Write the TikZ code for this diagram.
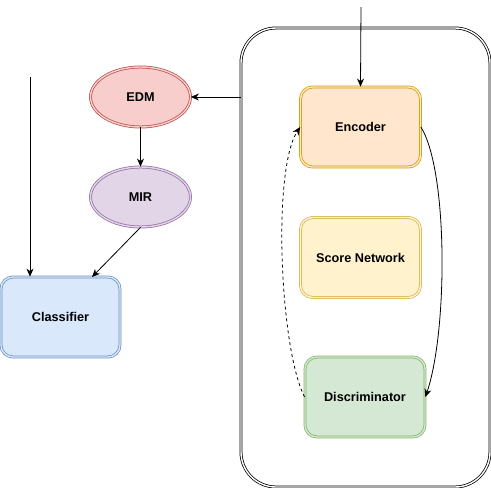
\documentclass[tikz,border=0pt]{standalone}
\usepackage{fontspec}
\setmainfont{Liberation Sans}
\usetikzlibrary{shapes.geometric,arrows.meta}
\definecolor{encF}{HTML}{FFE6CC}\definecolor{encS}{HTML}{D79B00}
\definecolor{scoF}{HTML}{FFF2CC}\definecolor{scoS}{HTML}{D6B656}
\definecolor{disF}{HTML}{D5E8D4}\definecolor{disS}{HTML}{82B366}
\definecolor{claF}{HTML}{DAE8FC}\definecolor{claS}{HTML}{6C8EBF}
\definecolor{edmF}{HTML}{F8CECC}\definecolor{edmS}{HTML}{B85450}
\definecolor{mirF}{HTML}{E1D5E7}\definecolor{mirS}{HTML}{9673A6}
\tikzset{
  lbl/.style={font=\fontsize{12.7}{15}\selectfont\bfseries, text=black},
  dbl/.style={line width=0.75pt, double distance=1.4pt},
  box/.style={lbl, dbl, rectangle, rounded corners=12pt, minimum width=120pt, minimum height=80pt, inner sep=0pt},
  oval/.style={lbl, dbl, ellipse, minimum width=100pt, minimum height=60pt, inner sep=0pt},
  conn/.style={line width=0.8pt, -{Stealth[length=8pt,width=7pt,inset=2.5pt]}},
}
\begin{document}
\begin{tikzpicture}[x=1pt,y=-1pt]
\useasboundingbox (0,0) rectangle (491,488);
\node[dbl, draw=black, double=white, rounded corners=35pt, minimum width=249pt, minimum height=459pt, inner sep=0pt] (container) at (365.5,257.5) {};
\node[box, draw=encS, fill=encF, double=encF] (enc) at (360.5,127) {Encoder};
\node[box, draw=scoS, fill=scoF, double=scoF] (score) at (360.5,257.5) {Score Network};
\node[box, draw=disS, fill=disF, double=disF] (disc) at (365,397) {Discriminator};
\node[box, minimum width=119pt, draw=claS, fill=claF, double=claF] (cls) at (60.5,317) {Classifier};
\node[oval, draw=edmS, fill=edmF, double=edmF] (edm) at (140.5,97) {EDM};
\node[oval, draw=mirS, fill=mirF, double=mirF] (mir) at (140.5,197) {MIR};
\coordinate (topin) at (361,7);
\coordinate (leftin) at (30,77);
\draw[conn] (topin) -- (enc.north);
\draw[conn] (container.west |- edm) -- (edm.east);
\draw[conn] (edm.south) -- (mir.south |- mir.north);
\draw[conn] (mir.south) -- (92,277);
\draw[conn] (leftin) -- (leftin |- cls.north);
\draw[conn] (enc.east) .. controls (448,170) and (448,330) .. (disc.east);
\draw[conn, dashed] (disc.west) .. controls (280,350) and (272,170) .. (enc.west);
\end{tikzpicture}
\end{document}
